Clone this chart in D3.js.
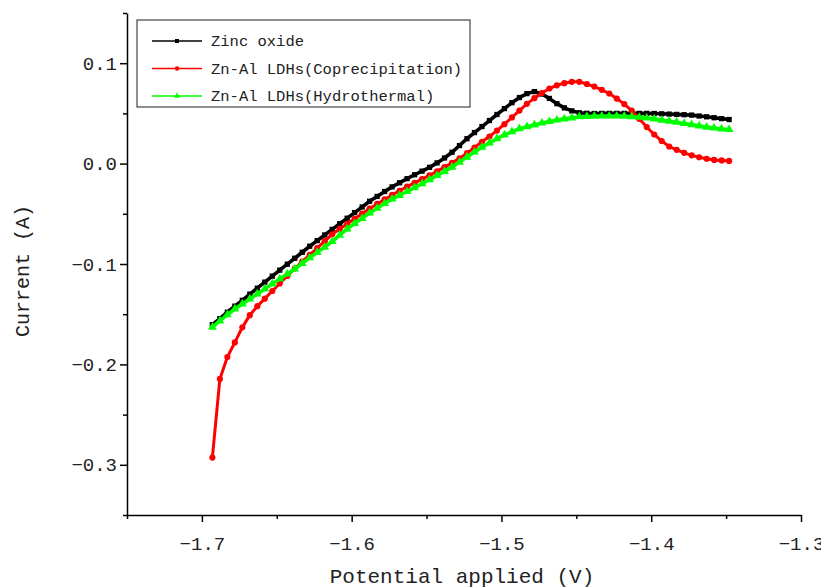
<!DOCTYPE html>
<html>
<head>
<meta charset="utf-8">
<script src="https://cdn.jsdelivr.net/npm/d3@7"></script>
<style>
body { margin: 0; background: #fff; }
text { font-family: "Liberation Mono", "DejaVu Sans Mono", monospace; fill: #222; }
</style>
</head>
<body>
<div id="chart-wrapper"></div>
<script>
// potential sweep (V), read every 0.005 V
var potential = [
  -1.693, -1.688, -1.683, -1.678, -1.673, -1.668, -1.663, -1.658, -1.653, -1.648,
  -1.643, -1.638, -1.633, -1.628, -1.623, -1.618, -1.613, -1.608, -1.603, -1.598,
  -1.593, -1.588, -1.583, -1.578, -1.573, -1.568, -1.563, -1.558, -1.553, -1.548,
  -1.543, -1.538, -1.533, -1.528, -1.523, -1.518, -1.513, -1.508, -1.503, -1.498,
  -1.493, -1.488, -1.483, -1.478, -1.473, -1.468, -1.463, -1.458, -1.453, -1.448,
  -1.443, -1.438, -1.433, -1.428, -1.423, -1.418, -1.413, -1.408, -1.403, -1.398,
  -1.393, -1.388, -1.383, -1.378, -1.373, -1.368, -1.363, -1.358, -1.353, -1.348
];

var zinc_oxide = [
  -0.1604, -0.1544, -0.1480, -0.1420, -0.1362, -0.1300, -0.1241, -0.1181, -0.1121, -0.1061,
  -0.1002, -0.0943, -0.0883, -0.0823, -0.0767, -0.0711, -0.0655, -0.0599, -0.0544, -0.0488,
  -0.0432, -0.0375, -0.0327, -0.0278, -0.0232, -0.0191, -0.0150, -0.0111, -0.0075, -0.0037,
   0.0007,  0.0056,  0.0113,  0.0180,  0.0248,  0.0309,  0.0369,  0.0429,  0.0489,  0.0548,
   0.0607,  0.0658,  0.0697,  0.0717,  0.0693,  0.0649,  0.0597,  0.0555,  0.0525,  0.0506,
   0.0501,  0.0499,  0.0500,  0.0500,  0.0500,  0.0500,  0.0500,  0.0500,  0.0500,  0.0499,
   0.0496,  0.0493,  0.0490,  0.0487,  0.0483,  0.0474,  0.0466,  0.0457,  0.0448,  0.0439
];

var coprecipitation = [
  -0.2928, -0.2145, -0.1926, -0.1781, -0.1631, -0.1510, -0.1420, -0.1345, -0.1269, -0.1194,
  -0.1119, -0.1045, -0.0977, -0.0910, -0.0842, -0.0773, -0.0704, -0.0651, -0.0599, -0.0549,
  -0.0499, -0.0448, -0.0402, -0.0357, -0.0312, -0.0271, -0.0230, -0.0192, -0.0155, -0.0117,
  -0.0076, -0.0035,  0.0007,  0.0052,  0.0104,  0.0160,  0.0217,  0.0270,  0.0329,  0.0393,
   0.0460,  0.0528,  0.0595,  0.0652,  0.0703,  0.0748,  0.0780,  0.0801,  0.0814,  0.0814,
   0.0793,  0.0767,  0.0735,  0.0698,  0.0648,  0.0593,  0.0529,  0.0446,  0.0364,  0.0290,
   0.0225,  0.0170,  0.0137,  0.0107,  0.0082,  0.0063,  0.0048,  0.0037,  0.0032,  0.0027
];

var hydrothermal = [
  -0.1629, -0.1566, -0.1505, -0.1448, -0.1398, -0.1348, -0.1298, -0.1248, -0.1198, -0.1150,
  -0.1100, -0.1049, -0.0994, -0.0938, -0.0884, -0.0832, -0.0776, -0.0713, -0.0650, -0.0597,
  -0.0545, -0.0492, -0.0445, -0.0398, -0.0353, -0.0316, -0.0278, -0.0239, -0.0200, -0.0160,
  -0.0119, -0.0078, -0.0035,  0.0015,  0.0065,  0.0115,  0.0163,  0.0206,  0.0249,  0.0285,
   0.0317,  0.0348,  0.0368,  0.0386,  0.0404,  0.0419,  0.0434,  0.0446,  0.0456,  0.0466,
   0.0469,  0.0472,  0.0474,  0.0474,  0.0474,  0.0473,  0.0467,  0.0461,  0.0454,  0.0446,
   0.0433,  0.0422,  0.0412,  0.0400,  0.0388,  0.0376,  0.0363,  0.0354,  0.0345,  0.0339
];

var series_names = ['Zinc oxide', 'Zn-Al LDHs(Coprecipitation)', 'Zn-Al LDHs(Hydrothermal)'];
var series_colors = ['#000000', '#ff0000', '#00ff00'];
var x_ticks = [-1.7, -1.6, -1.5, -1.4, -1.3];
var x_minor = [-1.75, -1.65, -1.55, -1.45, -1.35];
var y_ticks = [0.1, 0.0, -0.1, -0.2, -0.3];
var y_minor = [0.15, 0.05, -0.05, -0.15, -0.25, -0.35];

var total_width = 821, total_height = 587;
var margin = {top: 13, right: 20, bottom: 72, left: 127};
var draw_width = total_width - margin.left - margin.right;
var draw_height = total_height - margin.top - margin.bottom;

var svg = d3.select('#chart-wrapper').append('svg')
    .attr('width', total_width)
    .attr('height', total_height);

var draw_area = svg.append('g')
    .attr('transform', 'translate(' + margin.left + ',' + margin.top + ')');

var scale_x = d3.scaleLinear().domain([-1.75, -1.3]).range([0, draw_width]);
var scale_y = d3.scaleLinear().domain([-0.35, 0.15]).range([draw_height, 0]);

// minor ticks first, no labels
draw_area.append('g')
    .attr('transform', 'translate(0,' + draw_height + ')')
    .call(d3.axisBottom(scale_x).tickValues(x_minor).tickSize(4).tickFormat(''))
    .call(function(g) { g.select('.domain').remove(); });
draw_area.append('g')
    .call(d3.axisLeft(scale_y).tickValues(y_minor).tickSize(4).tickFormat(''))
    .call(function(g) { g.select('.domain').remove(); });

var axis_x = draw_area.append('g')
    .attr('transform', 'translate(0,' + draw_height + ')')
    .call(d3.axisBottom(scale_x).tickValues(x_ticks).tickSizeInner(7).tickSizeOuter(0)
        .tickPadding(15).tickFormat(d3.format('.1f')));
var axis_y = draw_area.append('g')
    .call(d3.axisLeft(scale_y).tickValues(y_ticks).tickSizeInner(7).tickSizeOuter(0)
        .tickPadding(3).tickFormat(d3.format('.1f')));

draw_area.selectAll('.domain, .tick line').attr('stroke', '#000').attr('stroke-width', 1.5);
draw_area.selectAll('.tick text').style('font-size', '19px').attr('fill', '#222');

// axis titles
svg.append('text')
    .attr('x', margin.left + draw_width / 2 - 2)
    .attr('y', 583)
    .attr('text-anchor', 'middle')
    .style('font-size', '21px')
    .text('Potential applied (V)');
svg.append('text')
    .attr('transform', 'translate(29,' + 271 + ') rotate(-90)')
    .attr('text-anchor', 'middle')
    .style('font-size', '20px')
    .text('Current (A)');

// series
var all_series = [zinc_oxide, coprecipitation, hydrothermal];
var symbols = [d3.symbolSquare, d3.symbolCircle, d3.symbolTriangle];
var symbol_sizes = [28, 30, 34];

var line = d3.line()
    .x(function(d) { return scale_x(d[0]); })
    .y(function(d) { return scale_y(d[1]); });

all_series.forEach(function(values, i) {
    var pts = potential.map(function(p, j) { return [p, values[j]]; });
    var g = draw_area.append('g').attr('class', 'series');
    g.append('path')
        .datum(pts)
        .attr('d', line)
        .attr('fill', 'none')
        .attr('stroke', series_colors[i])
        .attr('stroke-width', i == 1 ? 3 : 3.6);
    g.selectAll('path.marker')
        .data(pts)
        .enter()
      .append('path')
        .attr('class', 'marker')
        .attr('d', d3.symbol().type(symbols[i]).size(symbol_sizes[i]))
        .attr('transform', function(d) {
            return 'translate(' + scale_x(d[0]) + ',' + scale_y(d[1]) + ')';
        })
        .attr('fill', series_colors[i]);
});

// legend
var legend = svg.append('g').attr('transform', 'translate(137,20)');
legend.append('rect')
    .attr('width', 333)
    .attr('height', 87)
    .attr('fill', '#fff')
    .attr('stroke', '#444')
    .attr('stroke-width', 1.2);
var rows = legend.selectAll('g.row')
    .data(series_names)
    .enter()
  .append('g')
    .attr('class', 'row')
    .attr('transform', function(d, i) { return 'translate(0,' + (21 + i * 27.5) + ')'; });
rows.append('line')
    .attr('x1', 15).attr('x2', 65)
    .attr('stroke', function(d, i) { return series_colors[i]; })
    .attr('stroke-width', 1.5);
rows.append('path')
    .attr('transform', 'translate(40,0)')
    .attr('d', function(d, i) { return d3.symbol().type(symbols[i]).size(16)(); })
    .attr('fill', function(d, i) { return series_colors[i]; });
rows.append('text')
    .attr('x', 74)
    .attr('dy', '0.35em')
    .style('font-size', '15.5px')
    .text(function(d) { return d; });
</script>
</body>
</html>
